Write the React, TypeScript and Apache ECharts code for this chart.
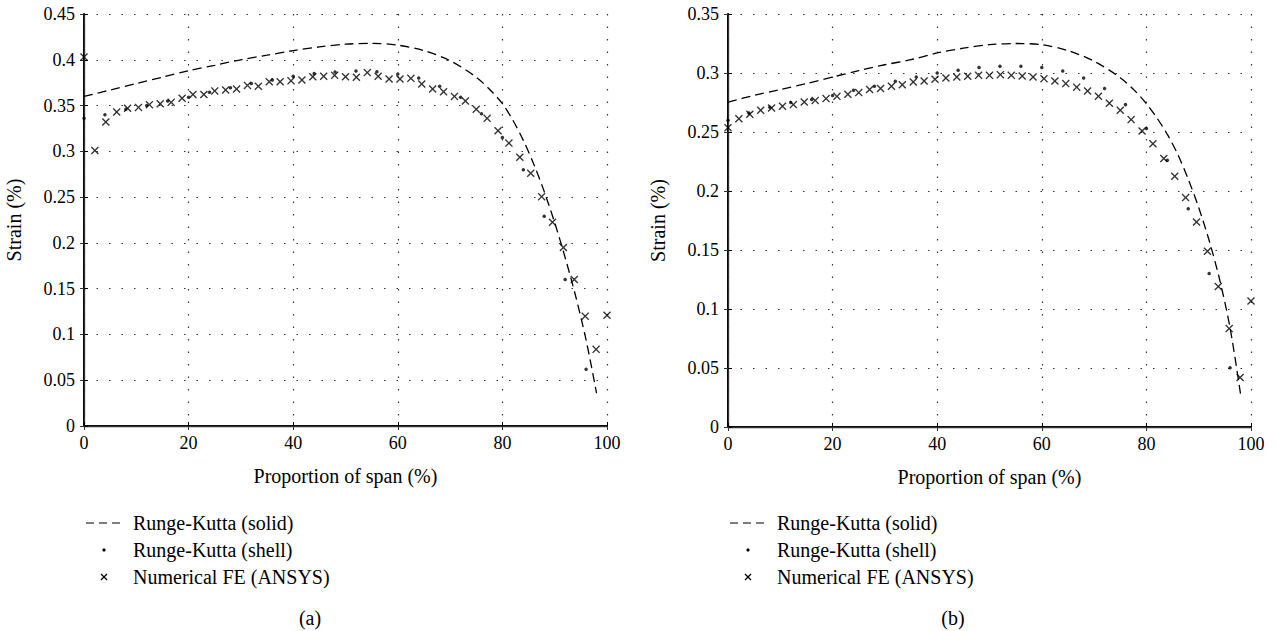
import React, { useEffect, useRef } from "react";
import * as echarts from "echarts";

// ---------- data ----------
const feX = [0, 2.08, 4.17, 6.25, 8.33, 10.42, 12.5, 14.58, 16.67, 18.75, 20.83, 22.92, 25, 27.08, 29.17, 31.25, 33.33, 35.42, 37.5, 39.58, 41.67, 43.75, 45.83, 47.92, 50, 52.08, 54.17, 56.25, 58.33, 60.42, 62.5, 64.58, 66.67, 68.75, 70.83, 72.92, 75, 77.08, 79.17, 81.25, 83.33, 85.42, 87.5, 89.58, 91.67, 93.75, 95.83, 97.92, 100];
const feA = [0.403, 0.301, 0.332, 0.343, 0.347, 0.348, 0.351, 0.352, 0.3535, 0.358, 0.362, 0.362, 0.366, 0.367, 0.368, 0.372, 0.371, 0.376, 0.376, 0.377, 0.378, 0.3815, 0.382, 0.383, 0.3815, 0.381, 0.386, 0.382, 0.379, 0.379, 0.3797, 0.3735, 0.368, 0.365, 0.36, 0.355, 0.346, 0.336, 0.3225, 0.309, 0.2935, 0.276, 0.2505, 0.2225, 0.195, 0.16, 0.12, 0.0837, 0.121];
const feB = [0.2537, 0.2613, 0.265, 0.2684, 0.2703, 0.2718, 0.2732, 0.2754, 0.2768, 0.2783, 0.2802, 0.282, 0.2834, 0.286, 0.2868, 0.2887, 0.29, 0.2924, 0.2932, 0.2947, 0.2958, 0.2966, 0.2972, 0.298, 0.298, 0.2986, 0.298, 0.2975, 0.2966, 0.2952, 0.2932, 0.291, 0.288, 0.2848, 0.2803, 0.2743, 0.2684, 0.2605, 0.2508, 0.24, 0.2275, 0.2125, 0.1944, 0.1737, 0.149, 0.119, 0.0834, 0.0419, 0.1068];

const shellX = [0, 4, 8, 12, 16, 20, 24, 28, 32, 36, 40, 44, 48, 52, 56, 60, 64, 68, 72, 76, 80, 84, 88, 92, 96];
const shellA = [0.336, 0.34, 0.346, 0.35, 0.355, 0.359, 0.3645, 0.3695, 0.374, 0.378, 0.382, 0.385, 0.3866, 0.3877, 0.387, 0.3845, 0.38, 0.371, 0.359, 0.341, 0.315, 0.28, 0.229, 0.16, 0.062];
const shellB = [0.26, 0.266, 0.271, 0.275, 0.2775, 0.281, 0.2853, 0.2887, 0.293, 0.2966, 0.3, 0.3023, 0.3046, 0.3057, 0.3057, 0.3046, 0.3017, 0.2958, 0.2868, 0.2732, 0.2529, 0.226, 0.185, 0.13, 0.0503];

const solidAX = [0, 5, 10, 15, 20, 25, 30, 35, 40, 45, 50, 55, 60, 65, 70, 75, 78, 80, 82, 84, 86, 88, 90, 92, 94, 96, 98];
const solidA = [0.36, 0.367, 0.374, 0.381, 0.388, 0.394, 0.4, 0.405, 0.41, 0.414, 0.417, 0.418, 0.416, 0.41, 0.399, 0.381, 0.365, 0.352, 0.334, 0.312, 0.286, 0.256, 0.222, 0.184, 0.142, 0.094, 0.036];
const solidBX = [0, 5, 10, 15, 20, 25, 30, 35, 40, 45, 50, 55, 60, 65, 70, 75, 78, 80, 82, 84, 86, 88, 90, 92, 94, 96, 98];
const solidB = [0.2754, 0.281, 0.286, 0.291, 0.2966, 0.302, 0.307, 0.3113, 0.317, 0.321, 0.324, 0.325, 0.324, 0.319, 0.31, 0.296, 0.284, 0.274, 0.262, 0.248, 0.231, 0.21, 0.186, 0.158, 0.125, 0.084, 0.028];

const seriesNames = ["Runge-Kutta (solid)", "Runge-Kutta (shell)", "Numerical FE (ANSYS)"];
const xTitle = "Proportion of span (%)";
const yTitle = "Strain (%)";
const captions = ["(a)", "(b)"];

// ---------- style ----------
const FONT = '"Liberation Serif", "DejaVu Serif", serif';
const CROSS = "path://M0,1.2L1.2,0L5,3.8L8.8,0L10,1.2L6.2,5L10,8.8L8.8,10L5,6.2L1.2,10L0,8.8L3.8,5Z";

const zip = (xs: number[], ys: number[]) => xs.map((x, i) => [x, ys[i]]);

function axesFor(gridIndex: number, yMax: number) {
  const dotted = { show: true, lineStyle: { color: "#333", width: 1.2, type: [1.5, 11] as any } };
  const xMain = {
    type: "value", gridIndex, min: 0, max: 100, interval: 20, position: "bottom",
    name: xTitle, nameLocation: "middle", nameGap: 40,
    nameTextStyle: { fontFamily: FONT, fontSize: 20, color: "#000" },
    axisLine: { show: true, lineStyle: { color: "#000", width: 2 } },
    axisTick: { show: true, inside: true, length: 4, lineStyle: { color: "#000", width: 1 } },
    axisLabel: { fontFamily: FONT, fontSize: 18, color: "#000", margin: 8 },
    splitLine: dotted,
  };
  const xTop = {
    type: "value", gridIndex, min: 0, max: 100, interval: 20, position: "top",
    axisLine: { show: true, lineStyle: { color: "#333", width: 1.3 } },
    axisTick: { show: true, inside: true, length: 4, lineStyle: { color: "#333", width: 1 } },
    axisLabel: { show: false }, splitLine: { show: false },
  };
  const yMain = {
    type: "value", gridIndex, min: 0, max: yMax, interval: 0.05, position: "left",
    name: yTitle, nameLocation: "middle", nameGap: 60, nameRotate: 90,
    nameTextStyle: { fontFamily: FONT, fontSize: 20, color: "#000" },
    axisLine: { show: true, lineStyle: { color: "#000", width: 2 } },
    axisTick: { show: true, inside: true, length: 4, lineStyle: { color: "#000", width: 1 } },
    axisLabel: { fontFamily: FONT, fontSize: 18, color: "#000", margin: 9 },
    splitLine: dotted,
  };
  const yRight = {
    type: "value", gridIndex, min: 0, max: yMax, interval: 0.05, position: "right",
    axisLine: { show: true, lineStyle: { color: "#333", width: 1.3 } },
    axisTick: { show: true, inside: true, length: 4, lineStyle: { color: "#333", width: 1 } },
    axisLabel: { show: false }, splitLine: { show: false },
  };
  return { x: [xMain, xTop], y: [yMain, yRight] };
}

function seriesFor(idx: number, solidX: number[], solid: number[], shell: number[], fe: number[]) {
  const xi = idx * 2;
  const yi = idx * 2;
  return [
    {
      name: seriesNames[0], type: "line", xAxisIndex: xi, yAxisIndex: yi,
      data: zip(solidX, solid), showSymbol: false, symbol: "none", smooth: 0.3,
      lineStyle: { color: "#000", width: 1.3, type: [9, 5] as any }, z: 3,
    },
    {
      name: seriesNames[1], type: "scatter", xAxisIndex: xi, yAxisIndex: yi,
      data: zip(shellX, shell), symbol: "circle", symbolSize: 3.5,
      itemStyle: { color: "#000" }, z: 4,
    },
    {
      name: seriesNames[2], type: "scatter", xAxisIndex: xi, yAxisIndex: yi,
      data: zip(feX, fe), symbol: CROSS, symbolSize: 8,
      itemStyle: { color: "#000" }, z: 4,
    },
  ];
}

function legendGraphic(lineX: number, textX: number, capX: number, caption: string) {
  const ys = [523, 550, 577];
  const txt = (t: string, x: number, y: number, align = "left") => ({
    type: "text", x, y,
    style: { text: t, font: `20px ${FONT}`, fill: "#000", align, verticalAlign: "middle" },
  });
  const mid = lineX + 18;
  return [
    { type: "line", shape: { x1: lineX, y1: ys[0], x2: lineX + 34, y2: ys[0] }, style: { stroke: "#000", lineWidth: 1.2, lineDash: [8, 5] } },
    txt(seriesNames[0], textX, ys[0]),
    { type: "circle", shape: { cx: mid, cy: ys[1], r: 1.6 }, style: { fill: "#000" } },
    txt(seriesNames[1], textX, ys[1]),
    { type: "line", shape: { x1: mid - 3, y1: ys[2] - 3, x2: mid + 3, y2: ys[2] + 3 }, style: { stroke: "#000", lineWidth: 1.2 } },
    { type: "line", shape: { x1: mid - 3, y1: ys[2] + 3, x2: mid + 3, y2: ys[2] - 3 }, style: { stroke: "#000", lineWidth: 1.2 } },
    txt(seriesNames[2], textX, ys[2]),
    txt(caption, capX, 618, "center"),
  ];
}

export default function App() {
  const ref = useRef<HTMLDivElement>(null);
  useEffect(() => {
    if (!ref.current) return;
    const chart = echarts.init(ref.current, undefined, { renderer: "svg" });
    const a = axesFor(0, 0.45);
    const b = axesFor(1, 0.35);
    chart.setOption({
      animation: false,
      backgroundColor: "#fff",
      grid: [
        { left: 84, top: 14, width: 523, height: 412, containLabel: false },
        { left: 728, top: 14, width: 523, height: 413, containLabel: false },
      ],
      xAxis: [...a.x, ...b.x],
      yAxis: [...a.y, ...b.y],
      series: [
        ...seriesFor(0, solidAX, solidA, shellA, feA),
        ...seriesFor(1, solidBX, solidB, shellB, feB),
      ],
      graphic: [
        ...legendGraphic(86, 133, 310, captions[0]),
        ...legendGraphic(730, 777, 953, captions[1]),
      ],
    });
    return () => chart.dispose();
  }, []);
  return (
    <div
      ref={ref}
      style={{ position: "fixed", left: 0, top: 0, width: 1276, height: 631, background: "#fff" }}
    />
  );
}
